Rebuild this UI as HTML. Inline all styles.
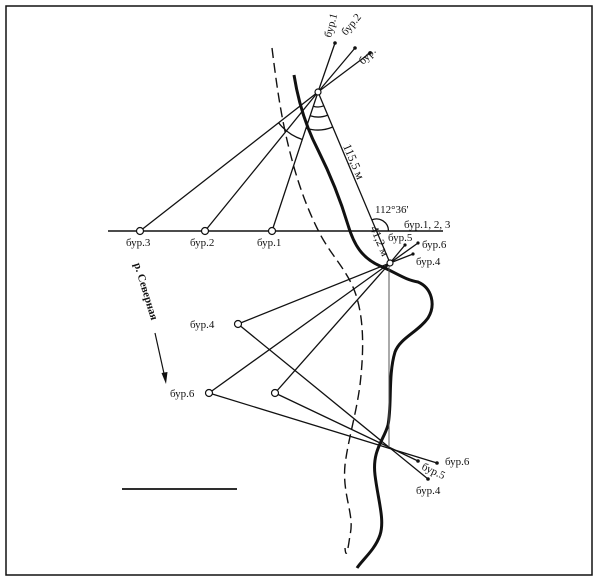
<!DOCTYPE html>
<html><head><meta charset="utf-8"><style>
html,body{margin:0;padding:0;background:#fff;}
svg{display:block;}
text{font-family:"Liberation Serif",serif;font-size:11px;fill:#111;}
</style></head><body>
<svg width="604" height="580" viewBox="0 0 604 580" xmlns="http://www.w3.org/2000/svg">
<rect x="6" y="6" width="586" height="569" fill="none" stroke="#111" stroke-width="1.5"/>
<!-- river thick -->
<path d="M294,75 C298,100 305,125 318,150 C332,178 342,205 348,225 C354,245 362,258 380,266 C395,272 405,280 418,282 C432,288 436,305 428,318 C418,332 400,338 395,352 C388,375 392,405 388,425 C384,440 372,450 375,475 C378,500 385,520 380,535 C375,550 362,560 357,568" fill="none" stroke="#111" stroke-width="3"/>
<!-- dashed bank -->
<path d="M272,48 C276,80 280,110 287,140 C294,170 303,200 318,230 C330,255 348,270 356,295 C364,320 364,350 360,385 C356,415 348,440 345,465 C342,495 355,515 350,535 C348,550 346,560 345,548" fill="none" stroke="#111" stroke-width="1.4" stroke-dasharray="10,5"/>
<!-- horizontal line -->
<line x1="108" y1="231" x2="443" y2="231" stroke="#111" stroke-width="1.4"/>
<g stroke="#111" stroke-width="1.3" fill="none">
<line x1="318" y1="92" x2="140" y2="231"/>
<line x1="318" y1="92" x2="205" y2="231"/>
<line x1="318" y1="92" x2="272" y2="231"/>
<line x1="318" y1="92" x2="390" y2="263"/>
<line x1="318" y1="92" x2="335" y2="43"/>
<line x1="318" y1="92" x2="355" y2="48"/>
<line x1="318" y1="92" x2="370" y2="53"/>
<path d="M313.3,106.2 A15,15 0 0 0 323.8,105.8"/>
<path d="M310.2,115.7 A25,25 0 0 0 327.7,115.1"/>
<path d="M306.1,128.1 A38,38 0 0 0 332.7,127"/>
<path d="M278.6,122.8 A50,50 0 0 0 302.3,139.5"/>
<path d="M371.8,219.9 A12,12 0 0 1 388.5,231"/>
<line x1="390" y1="263" x2="405" y2="245"/>
<line x1="390" y1="263" x2="418" y2="243"/>
<line x1="390" y1="263" x2="413" y2="254"/>
<line x1="390" y1="263" x2="238" y2="324"/>
<line x1="390" y1="263" x2="209" y2="393"/>
<line x1="390" y1="263" x2="275" y2="393"/>
<line x1="238" y1="324" x2="428" y2="479"/>
<line x1="209" y1="393" x2="437" y2="463"/>
<line x1="275" y1="393" x2="418" y2="461"/>
</g>
<line x1="389" y1="263" x2="389" y2="447" stroke="#555" stroke-width="1"/>
<g fill="#111">
<circle cx="335" cy="43" r="1.8"/><circle cx="355" cy="48" r="1.8"/><circle cx="370" cy="53" r="1.8"/>
<circle cx="405" cy="245" r="1.6"/><circle cx="418" cy="243" r="1.6"/><circle cx="413" cy="254" r="1.6"/>
<circle cx="428" cy="479" r="1.8"/><circle cx="437" cy="463" r="1.8"/><circle cx="418" cy="461" r="1.8"/>
</g>
<g fill="#fff" stroke="#111" stroke-width="1.2">
<circle cx="318" cy="92" r="3"/><circle cx="390" cy="263" r="3"/>
<circle cx="140" cy="231" r="3.5"/><circle cx="205" cy="231" r="3.5"/><circle cx="272" cy="231" r="3.5"/>
<circle cx="238" cy="324" r="3.5"/><circle cx="209" cy="393" r="3.5"/><circle cx="275" cy="393" r="3.5"/>
</g>
<line x1="122" y1="489" x2="237" y2="489" stroke="#111" stroke-width="1.8"/>
<line x1="155" y1="333" x2="165" y2="378" stroke="#111" stroke-width="1.2"/>
<path d="M166,384 L161.5,373 L167.5,372 Z" fill="#111"/>
<text x="126" y="246">бур.3</text>
<text x="190" y="246">бур.2</text>
<text x="257" y="246">бур.1</text>
<text x="404" y="228">бур.1, 2, 3</text>
<text x="388" y="241">бур.5</text>
<text x="422" y="248">бур.6</text>
<text x="416" y="265">бур.4</text>
<text x="190" y="328">бур.4</text>
<text x="170" y="397">бур.6</text>
<text x="445" y="465">бур.6</text>
<text x="416" y="494">бур.4</text>
<text x="0" y="0" transform="translate(421,469) rotate(25)">бур.5</text>
<text x="375" y="213">112°36'</text>
<text x="0" y="0" transform="translate(343,146) rotate(67)" style="font-size:12px">115,5 м</text>
<text x="0" y="0" transform="translate(370,228) rotate(67)" style="font-size:12px">41,2 м</text>
<text x="0" y="0" transform="translate(331,38) rotate(-75)">бур.1</text>
<text x="0" y="0" transform="translate(346,36) rotate(-50)">бур.2</text>
<text x="0" y="0" transform="translate(363,65) rotate(-45)">бур.</text>
<text x="0" y="0" transform="translate(134,264) rotate(73)" style="font-weight:bold">р. Северная</text>
</svg>
</body></html>
